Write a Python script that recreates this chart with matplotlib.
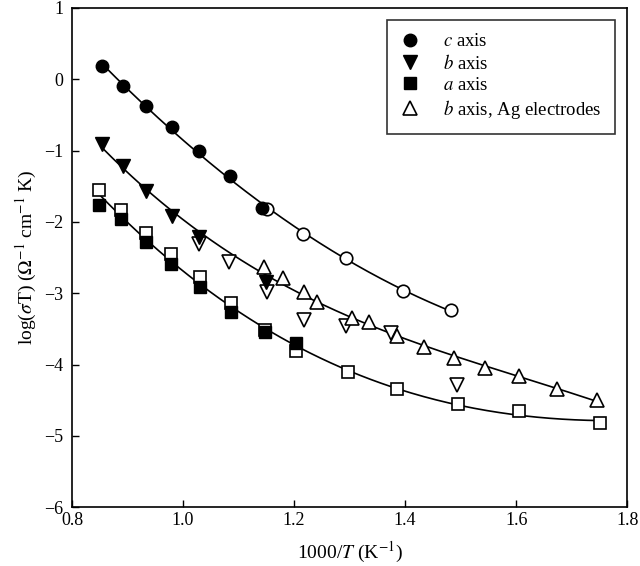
import numpy as np
import matplotlib.pyplot as plt

# === Data (x = 1000/T, y = log(sigma T)) ===
c_fill_x = [0.854, 0.892, 0.933, 0.980, 1.029, 1.085, 1.142]
c_fill_y = [0.19, -0.10, -0.37, -0.67, -1.01, -1.36, -1.80]
c_open_x = [1.152, 1.216, 1.294, 1.396, 1.482]
c_open_y = [-1.82, -2.17, -2.51, -2.97, -3.23]

b_fill_x = [0.854, 0.892, 0.933, 0.980, 1.029, 1.150]
b_fill_y = [-0.91, -1.22, -1.57, -1.92, -2.21, -2.84]
b_open_x = [1.029, 1.082, 1.151, 1.217, 1.293, 1.374, 1.493]
b_open_y = [-2.31, -2.56, -2.99, -3.37, -3.46, -3.56, -4.29]

ag_x = [1.146, 1.180, 1.217, 1.241, 1.305, 1.335, 1.385, 1.434, 1.488,
        1.544, 1.606, 1.673, 1.746]
ag_y = [-2.63, -2.79, -2.99, -3.12, -3.35, -3.41, -3.60, -3.76, -3.91,
        -4.05, -4.16, -4.34, -4.50]

a_fill_x = [0.848, 0.888, 0.933, 0.978, 1.031, 1.086, 1.148, 1.204]
a_fill_y = [-1.76, -1.96, -2.28, -2.59, -2.92, -3.27, -3.54, -3.70]
a_open_x = [0.848, 0.888, 0.933, 0.978, 1.031, 1.086, 1.148, 1.204,
            1.297, 1.386, 1.496, 1.606, 1.751]
a_open_y = [-1.56, -1.83, -2.15, -2.45, -2.78, -3.14, -3.51, -3.81,
            -4.10, -4.34, -4.56, -4.65, -4.82]

# === Style ===
plt.rcParams.update({
    "font.family": "Liberation Serif",
    "mathtext.fontset": "stix",
    "font.size": 12,
    "xtick.direction": "in",
    "ytick.direction": "in",
    "xtick.major.size": 5,
    "ytick.major.size": 5,
})

fig, ax = plt.subplots(figsize=(6.4, 5.66), dpi=100)
fig.subplots_adjust(left=0.1125, right=0.98, top=0.986, bottom=0.104)


def fit_line(xs, ys, deg):
    p = np.polyfit(xs, ys, deg)
    xx = np.linspace(min(xs), max(xs), 200)
    ax.plot(xx, np.polyval(p, xx), color="black", lw=1.2, zorder=1)


# fitted curves
fit_line(c_fill_x + c_open_x, c_fill_y + c_open_y, 2)
fit_line(b_fill_x + ag_x, b_fill_y + ag_y, 3)
fit_line(a_fill_x + a_open_x, a_fill_y + a_open_y, 3)

ms = 9
ax.plot(c_fill_x, c_fill_y, "o", color="black", ms=ms, label=r"$c$ axis", zorder=3)
ax.plot(c_open_x, c_open_y, "o", mfc="white", mec="black", ms=ms, mew=1.2, zorder=2)
ax.plot(b_fill_x, b_fill_y, "v", color="black", ms=ms + 1, label=r"$b$ axis", zorder=3)
ax.plot(b_open_x, b_open_y, "v", mfc="white", mec="black", ms=ms + 1, mew=1.2, zorder=2)
ax.plot(a_fill_x, a_fill_y, "s", color="black", ms=ms - 1, label=r"$a$ axis", zorder=3)
ax.plot(a_open_x, a_open_y, "s", mfc="white", mec="black", ms=ms - 1, mew=1.2, zorder=2)
ax.plot(ag_x, ag_y, "^", mfc="white", mec="black", ms=ms + 1, mew=1.2,
        label=r"$b$ axis, Ag electrodes", zorder=2)

ax.set_xlim(0.8, 1.8)
ax.set_ylim(-6, 1)
ax.set_xticks(np.arange(0.8, 1.81, 0.2))
ax.set_xticklabels(["0.8", "1.0", "1.2", "1.4", "1.6", "1.8"])
ax.set_yticks(range(-6, 2))
ax.set_yticklabels(["\u22126", "\u22125", "\u22124", "\u22123", "\u22122", "\u22121", "0", "1"])
ax.tick_params(labelsize=13, width=1)
ax.tick_params(axis="y", pad=6)
for s in ax.spines.values():
    s.set_linewidth(1.2)

ax.set_xlabel(r"1000/$T$ (K$^{-1}$)", fontsize=14, labelpad=8)
ax.set_ylabel(r"log($\sigma$T) ($\Omega^{-1}$ cm$^{-1}$ K)", fontsize=14)

leg = ax.legend(loc="upper right", bbox_to_anchor=(0.978, 0.976), borderaxespad=0,
                fontsize=13.5, frameon=True, fancybox=False, edgecolor="black",
                handlelength=1.0, handletextpad=1.3, borderpad=0.7,
                labelspacing=0.2)
leg.get_frame().set_linewidth(1.2)

plt.savefig("out.png", dpi=100)
plt.close()
